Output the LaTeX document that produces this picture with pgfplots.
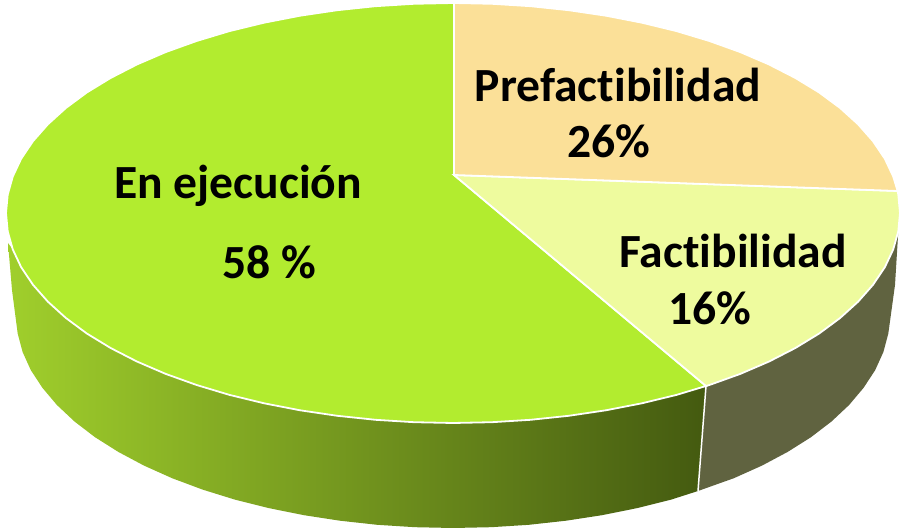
\documentclass[border=0pt]{standalone}
\usepackage{fontspec}
\setmainfont{Carlito}[Ligatures=NoCommon]
\usepackage{pgfplots}
\pgfplotsset{compat=1.18}
\definecolor{ejec}{HTML}{B2EC2F}
\definecolor{pref}{HTML}{FBE098}
\definecolor{fact}{HTML}{EEFB9E}
\definecolor{sideR}{HTML}{606340}
\definecolor{sideL}{HTML}{A0CF2C}
\definecolor{sideD}{HTML}{445A10}
\pgfdeclarehorizontalshading{sideG}{100bp}{color(0bp)=(sideL); color(25bp)=(sideL); color(75bp)=(sideD); color(100bp)=(sideD)}
\begin{document}
\begin{tikzpicture}
\useasboundingbox (0,0) rectangle (906pt,529pt);
\begin{axis}[
  at={(0,0)},anchor=south west,
  scale only axis,width=906pt,height=529pt,
  xmin=0,xmax=906,ymin=0,ymax=529,y dir=reverse,
  hide axis,clip=false]
% side of Factibilidad
\addplot[draw=none,fill=sideR] coordinates {
(706,386)(709.4,385)(740.3,373.9)(769.1,361.5)(795.4,348)(819.2,333.5)(840.1,318)(858.1,301.7)(873,284.8)(884.8,267.3)(893.2,249.5)(898.3,231.3)
(895,285)(888.3,333.6)(883.4,352)(875.2,370.1)(863.6,387.8)(849.1,405)(831.5,421.5)(811,437.2)(787.7,451.9)(762,465.6)(733.9,478.2)(698,491)
} -- cycle;
% side of En ejecucion
\addplot[draw=none,shading=sideG] coordinates {
(706,386)(698,491)(671.5,499.5)(637.7,508)(602.5,515.1)(566.1,520.7)(528.9,524.8)(491.1,527.2)(453,528)(414.9,527.2)(377.1,524.8)(339.9,520.7)(303.5,515.1)(268.3,508)(234.5,499.5)(202.3,489.5)(172.1,478.2)(144,465.6)(118.3,451.9)(95,437.2)(74.5,421.5)(56.9,405)(42.4,387.8)(30.8,370.1)(22.6,352)(17.7,333.6)(12,290)(8,243)
(12.8,249.5)(21.2,267.3)(33,284.8)(47.9,301.7)(65.9,318)(86.8,333.5)(110.6,348)(136.9,361.5)(165.7,373.9)(196.6,385)(229.5,394.9)(264.1,403.3)(300.1,410.3)(337.3,415.8)(375.4,419.8)(414,422.2)(453,423)(492,422.2)(530.6,419.8)(568.7,415.8)(605.9,410.3)(641.9,403.3)(676.5,394.9)
} -- cycle;
\addplot[white,line width=1.5pt] coordinates {(706,386)(698,491)};
% top: En ejecucion
\addplot[draw=white,line width=1.8pt,fill=ejec] coordinates {
(454,175)(706,386)(676.5,394.9)(641.9,403.3)(605.9,410.3)(568.7,415.8)(530.6,419.8)(492,422.2)(453,423)(414,422.2)(375.4,419.8)(337.3,415.8)(300.1,410.3)(264.1,403.3)(229.5,394.9)(196.6,385)(165.7,373.9)(136.9,361.5)(110.6,348)(86.8,333.5)(65.9,318)(47.9,301.7)(33,284.8)(21.2,267.3)(12.8,249.5)(7.7,231.3)(6,213)(7.7,194.7)(12.8,176.5)(21.2,158.7)(33,141.2)(47.9,124.3)(65.9,108)(86.8,92.5)(110.6,78)(136.9,64.5)(165.7,52.1)(196.6,41)(229.5,31.1)(264.1,22.7)(300.1,15.7)(337.3,10.2)(375.4,6.2)(414,3.8)(453,3)(454,3)
} -- cycle;
% top: Factibilidad
\addplot[draw=white,line width=1.8pt,fill=fact] coordinates {
(454,175)(897.6,191)(898.3,194.7)(900,213)(898.3,231.3)(893.2,249.5)(884.8,267.3)(873,284.8)(858.1,301.7)(840.1,318)(819.2,333.5)(795.4,348)(769.1,361.5)(740.3,373.9)(709.4,385)(706,386)
} -- cycle;
% top: Prefactibilidad
\addplot[draw=white,line width=1.8pt,fill=pref] coordinates {
(454,175)(454,3)(492,3.8)(530.6,6.2)(568.7,10.2)(605.9,15.7)(641.9,22.7)(676.5,31.1)(709.4,41)(740.3,52.1)(769.1,64.5)(795.4,78)(819.2,92.5)(840.1,108)(858.1,124.3)(873,141.2)(884.8,158.7)(893.2,176.5)(897.6,191)
} -- cycle;
\node[font=\fontsize{47.6}{47.6}\selectfont\bfseries] at (axis cs:618,84.5) {Prefactibilidad};
\node[font=\fontsize{47.6}{47.6}\selectfont\bfseries] at (axis cs:609,141.5) {26\%};
\node[font=\fontsize{47.6}{47.6}\selectfont\bfseries] at (axis cs:733,250.5) {Factibilidad};
\node[font=\fontsize{47.6}{47.6}\selectfont\bfseries] at (axis cs:710,308.5) {16\%};
\node[font=\fontsize{47.6}{47.6}\selectfont\bfseries] at (axis cs:238,185.5) {En ejecución};
\node[font=\fontsize{47.6}{47.6}\selectfont\bfseries] at (axis cs:269,262.5) {58 \%};
\end{axis}
\end{tikzpicture}
\end{document}
